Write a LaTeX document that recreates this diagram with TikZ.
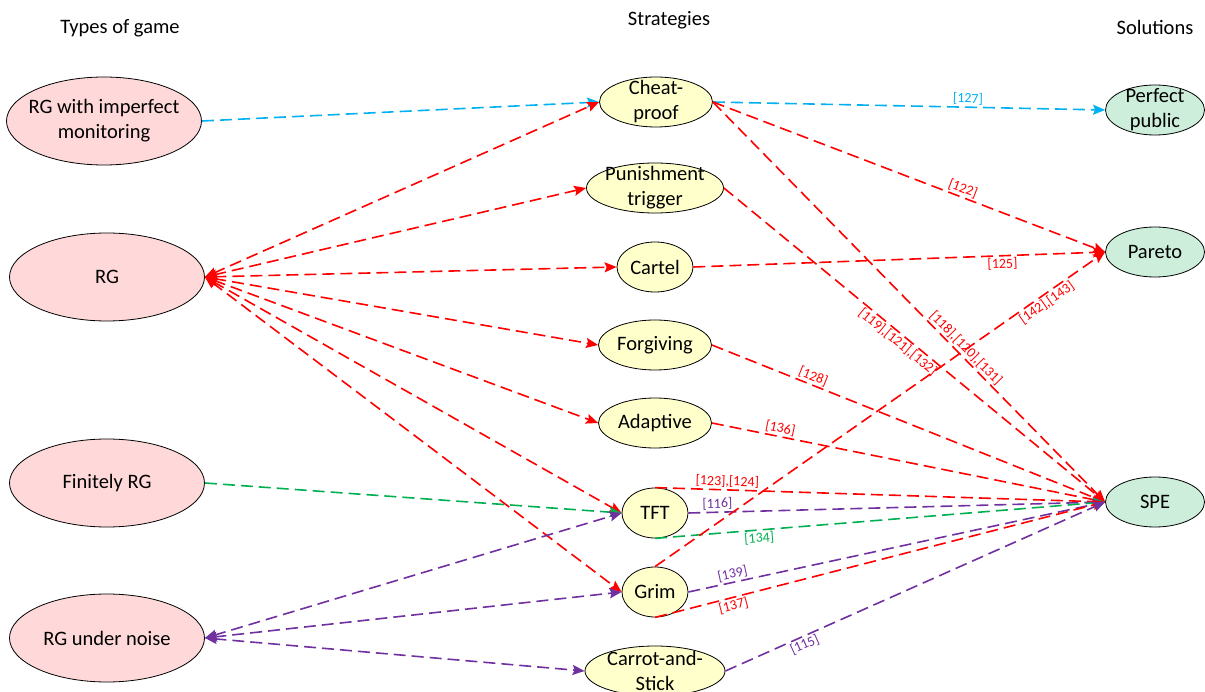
\documentclass[tikz,border=0pt]{standalone}
\usepackage{fontspec}
\setmainfont{Carlito}
\usetikzlibrary{shapes.geometric,arrows.meta}
\definecolor{cred}{RGB}{255,0,0}
\definecolor{cblue}{RGB}{0,176,240}
\definecolor{cgreen}{RGB}{0,176,80}
\definecolor{cpurple}{RGB}{112,48,160}
\definecolor{fpink}{RGB}{255,217,217}
\definecolor{fyellow}{RGB}{255,255,204}
\definecolor{fgreen}{RGB}{204,238,218}
\begin{document}
\begin{tikzpicture}[x=1pt,y=-1pt,
 ell/.style={ellipse, draw=black, line width=0.8pt, inner sep=0pt, minimum height=50pt},
 game/.style={ell, fill=fpink, minimum height=88pt, minimum width=195pt},
 strat/.style={ell, fill=fyellow},
 sol/.style={ell, fill=fgreen, minimum width=99pt},
 txt/.style={font=\fontsize{20.5}{25}\selectfont, align=center, inner sep=0pt},
 ln/.style={line width=1.6pt, dash pattern=on 12pt off 6pt, >={Stealth[length=12pt,width=10pt,inset=2pt]}},
 lab/.style={font=\fontsize{14}{15}\selectfont, inner sep=1.5pt, sloped},
]
\useasboundingbox (0,0) rectangle (1205,692);
\clip (0,0) rectangle (1205,692);

% headers
\node[txt] (h1) at (120,28) {Types of game};
\node[txt] (h2) at (669,20) {Strategies};
\node[txt] (h3) at (1155,27) {Solutions};

% game types
\node[game, label={[txt]center:RG with imperfect\\monitoring}] (rgim) at (104,121) {};
\node[game, label={[txt]center:RG}] (rg) at (107,277) {};
\node[game, label={[txt]center:Finitely RG}] (frg) at (107,483) {};
\node[game, label={[txt]center:RG under noise}] (rgn) at (107,638) {};

% strategies
\node[strat, minimum width=113pt, label={[txt]center:Cheat-\\proof}] (cp) at (656,102) {};
\node[strat, minimum width=137pt, label={[txt]center:Punishment\\trigger}] (pt) at (655,188) {};
\node[strat, minimum width=76pt, label={[txt]center:Cartel}] (ca) at (655,267) {};
\node[strat, minimum width=113pt, label={[txt]center:Forgiving}] (fo) at (655,345) {};
\node[strat, minimum width=113pt, label={[txt]center:Adaptive}] (ad) at (655,423) {};
\node[strat, minimum width=66pt, label={[txt]center:TFT}] (tft) at (655,513) {};
\node[strat, minimum width=66pt, label={[txt]center:Grim}] (gr) at (655,592) {};
\node[strat, minimum width=140pt, label={[txt]center:Carrot-and-\\Stick}] (cs) at (655,671) {};

% solutions
\node[sol, label={[txt]center:Perfect\\public}] (pp) at (1155,110) {};
\node[sol, label={[txt]center:Pareto}] (pa) at (1155,252) {};
\node[sol, label={[txt]center:SPE}] (spe) at (1155,502) {};

% game -> strategy
\draw[ln,cblue,->] (rgim.east) -- (cp.west);
\foreach \t in {cp,pt,ca,fo,ad,tft,gr} \draw[ln,cred,<->] (rg.east) -- (\t.west);
\draw[ln,cgreen,->] (frg.east) -- (tft.west);
\foreach \t in {tft,gr,cs} \draw[ln,cpurple,<->] (rgn.east) -- (\t.west);

% strategy -> solution
\draw[ln,cblue,->] (cp.east) -- node[lab,above,pos=0.65]{[127]} (pp.west);
\draw[ln,cred,->] (cp.east) -- node[lab,above,pos=0.63]{[122]} (pa.west);
\draw[ln,cred,->] (cp.east) -- node[lab,above,pos=0.63]{[118],[120],[131]} (spe.west);
\draw[ln,cred,->] (pt.east) -- node[lab,below,pos=0.47]{[119],[121],[132]} (spe.west);
\draw[ln,cred,->] (ca.east) -- node[lab,below,pos=0.75]{[125]} (pa.west);
\draw[ln,cred,->] (fo.east) -- node[lab,above,pos=0.25]{[128]} (spe.west);
\draw[ln,cred,->] (ad.east) -- node[lab,above,pos=0.17]{[136]} (spe.west);
\draw[ln,cred,->] (tft.north) -- node[lab,above,pos=0.16]{[123],[124]} (spe.west);
\draw[ln,cpurple,->] (tft.east) -- node[lab,above,pos=0.07]{[116]} (spe.west);
\draw[ln,cgreen,->] (tft.south) -- node[lab,below,pos=0.23]{[134]} (spe.west);
\draw[ln,cred,->] (gr.north) -- node[lab,below,pos=0.86]{[142],[143]} (pa.west);
\draw[ln,cpurple,->] (gr.east) -- node[lab,above,pos=0.11]{[139]} (spe.west);
\draw[ln,cred,->] (gr.south) -- node[lab,below,pos=0.17]{[137]} (spe.west);
\draw[ln,cpurple,->] (cs.east) -- node[lab,below,pos=0.2]{[115]} (spe.west);
\end{tikzpicture}
\end{document}
